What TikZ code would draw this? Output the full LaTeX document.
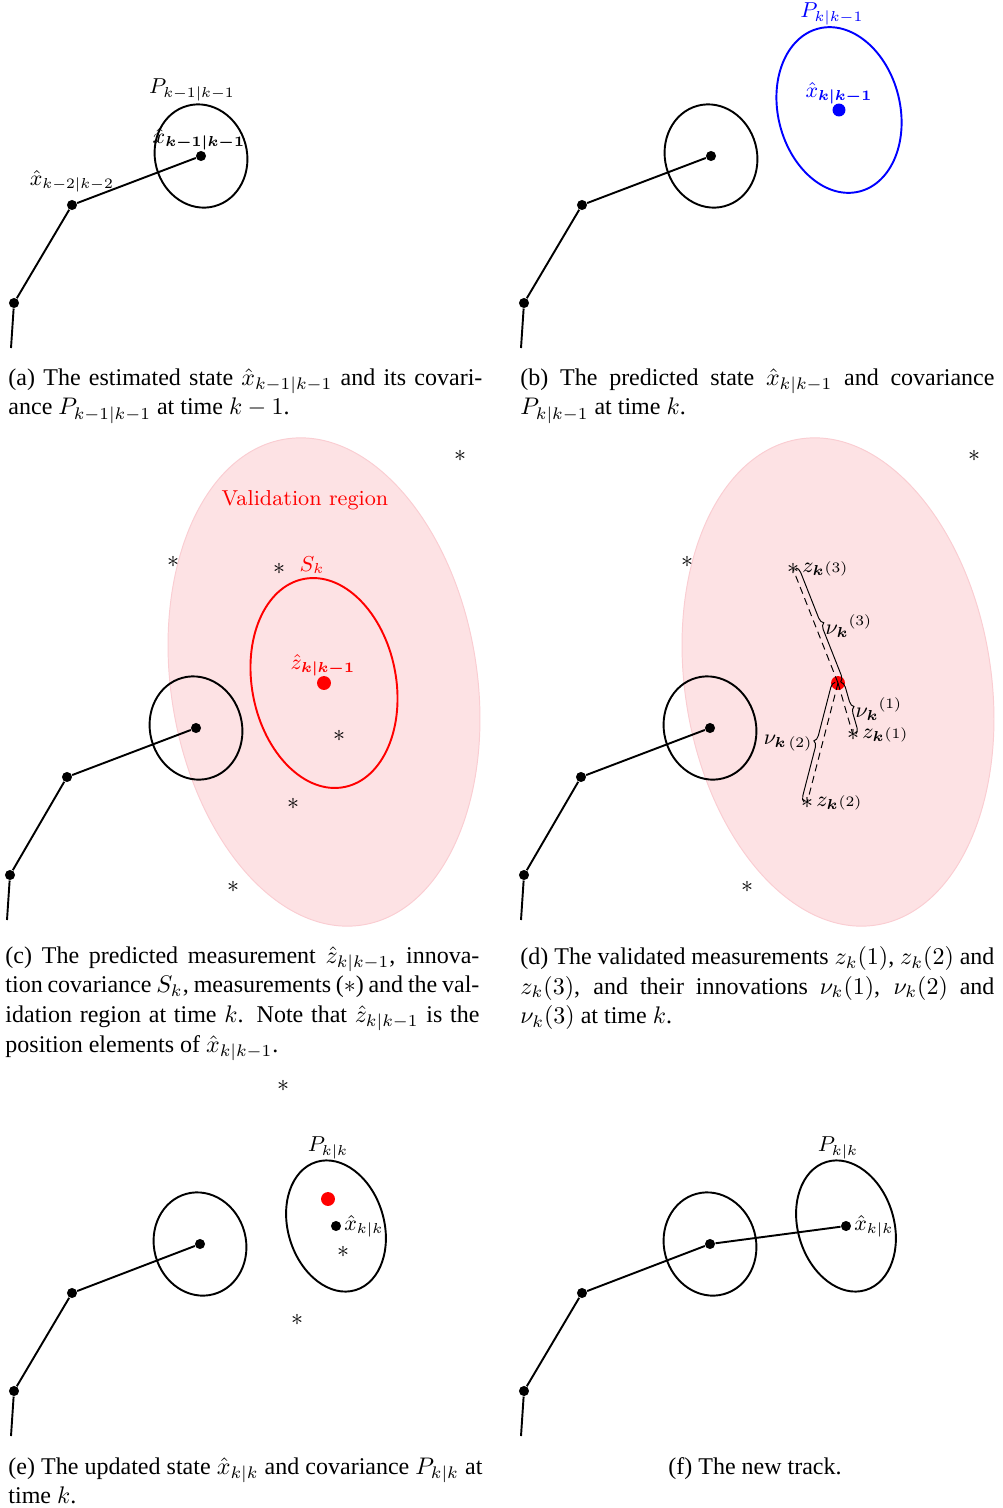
\documentclass[tikz,border=0pt]{standalone}
\usepackage{amsmath,amssymb}
\usepackage{fontspec}
\newfontfamily\capfont{Liberation Serif}
\usetikzlibrary{positioning,decorations.pathreplacing}

\definecolor{valpink}{RGB}{253,226,228}
\definecolor{valedge}{RGB}{250,205,210}

\tikzset{
  trk/.style={thick},
  dot/.style={circle, fill, inner sep=0pt, minimum size=4.2pt},
  bigdot/.style={circle, fill, inner sep=0pt, minimum size=5.8pt},
  meas/.style={inner sep=0pt},
  cov/.style={thick},
  lbl/.style={font=\small, inner sep=1pt},
  capbox/.style={anchor=north west, inner sep=0pt, text width=197.5pt, align=justify, font=\capfont\fontsize{10}{12.35}\selectfont},
  innov/.style={decorate, decoration={brace, amplitude=2.5pt, raise=1.2pt}},
}

\begin{document}
\begin{tikzpicture}[x=0.4167pt, y=-0.4167pt]
\useasboundingbox (0,0) rectangle (1002,1508);

% (a) estimated state
\coordinate (a0) at (11,348);
\node[dot] (a1) at (14,303) {};
\node[dot] (a2) at (72,205) {};
\node[dot] (a3) at (201,156) {};
\draw[trk] (a0) -- (a1) -- (a2) -- (a3);
\draw[cov, rotate=15] (a3) ellipse [x radius=46, y radius=52];
\node[lbl] (aP) at (192,90) {$P_{k-1|k-1}$};
\node[lbl] (ax) at (199,139) {$\hat{x}_{\boldsymbol{k-1|k-1}}$};
\node[lbl] (ax2) at (72,181) {$\hat{x}_{k-2|k-2}$};
\node[capbox] (capa) at (8,368) {(a) The estimated state $\hat{x}_{k-1|k-1}$ and its covariance $P_{k-1|k-1}$ at time $k-1$.};

% (b) prediction
\coordinate (b0) at (521,348);
\node[dot] (b1) at (524,303) {};
\node[dot] (b2) at (582,205) {};
\node[dot] (b3) at (711,156) {};
\draw[trk] (b0) -- (b1) -- (b2) -- (b3);
\draw[cov, rotate=15] (b3) ellipse [x radius=46, y radius=52];
\node[bigdot, blue, minimum size=5.4pt] (bx) at (839,110) {};
\draw[cov, blue, rotate=14] (bx) ellipse [x radius=61, y radius=84];
\node[lbl, blue] (bP) at (832,14) {$P_{k|k-1}$};
\node[lbl, blue] (bxl) at (839,93) {$\hat{x}_{\boldsymbol{k|k-1}}$};
\node[capbox] (capb) at (520,368) {(b) The predicted state $\hat{x}_{k|k-1}$ and covariance $P_{k|k-1}$ at time $k$.};

% (c) measurements and validation region
\coordinate (cv) at (324,682);
\fill[valpink, draw=valedge, rotate=9] (cv) ellipse [x radius=153, y radius=246];
\coordinate (c0) at (7,920);
\node[dot] (c1) at (10,875) {};
\node[dot] (c2) at (67,777) {};
\node[dot] (c3) at (196,728) {};
\draw[trk] (c0) -- (c1) -- (c2) -- (c3);
\draw[cov, rotate=15] (c3) ellipse [x radius=46, y radius=52];
\node[bigdot, red] (cz) at (324,683) {};
\draw[cov, red, rotate=11] (cz) ellipse [x radius=72, y radius=106];
\node[lbl, red] (cval) at (305,500) {Validation region};
\node[lbl, red] (cS) at (312,565) {$S_k$};
\node[lbl, red] (czl) at (323,665) {$\hat{z}_{\boldsymbol{k|k-1}}$};
\node[meas] (cs1) at (460,456) {$\ast$};
\node[meas] (cs2) at (173,562) {$\ast$};
\node[meas] (cs3) at (279,569) {$\ast$};
\node[meas] (cs4) at (339,736) {$\ast$};
\node[meas] (cs5) at (293,804) {$\ast$};
\node[meas] (cs6) at (233,887) {$\ast$};
\node[capbox] (capc) at (5,946) {(c) The predicted measurement $\hat{z}_{k|k-1}$, innovation covariance $S_k$, measurements ($\ast$) and the validation region at time $k$. Note that $\hat{z}_{k|k-1}$ is the position elements of $\hat{x}_{k|k-1}$.};

% (d) validated measurements and innovations
\coordinate (dv) at (838,682);
\fill[valpink, draw=valedge, rotate=9] (dv) ellipse [x radius=153, y radius=246];
\coordinate (d0) at (521,920);
\node[dot] (d1) at (524,875) {};
\node[dot] (d2) at (581,777) {};
\node[dot] (d3) at (710,728) {};
\draw[trk] (d0) -- (d1) -- (d2) -- (d3);
\draw[cov, rotate=15] (d3) ellipse [x radius=46, y radius=52];
\node[bigdot, red] (dz) at (838,683) {};
\node[meas] (ds1) at (974,456) {$\ast$};
\node[meas] (ds2) at (687,562) {$\ast$};
\node[meas] (ds6) at (747,887) {$\ast$};
\node[meas] (z1) at (853,735) {$\ast$};
\node[meas] (z2) at (807,803) {$\ast$};
\node[meas] (z3) at (793,569) {$\ast$};
\node[lbl, right=0pt of z1] (z1l) {$z_{\boldsymbol{k}}{\scriptstyle(1)}$};
\node[lbl, right=0pt of z2] (z2l) {$z_{\boldsymbol{k}}{\scriptstyle(2)}$};
\node[lbl, right=0pt of z3] (z3l) {$z_{\boldsymbol{k}}{\scriptstyle(3)}$};
\draw[dashed, dash pattern=on 3pt off 2pt] (dz.center) -- (z1.center);
\draw[dashed, dash pattern=on 3pt off 2pt] (dz.center) -- (z2.center);
\draw[dashed, dash pattern=on 3pt off 2pt] (dz.center) -- (z3.center);
\draw[innov] (dz.center) -- (z1.center) node[lbl, midway, right=3pt] {$\nu_{\boldsymbol{k}}{}^{(1)}$};
\draw[innov] (z2.center) -- (dz.center) node[lbl, midway, left=3pt] {$\nu_{\boldsymbol{k}\,(2)}$};
\draw[innov] (z3.center) -- (dz.center) node[lbl, midway, right=3pt] {$\nu_{\boldsymbol{k}}{}^{(3)}$};
\node[capbox] (capd) at (520,946) {(d) The validated measurements $z_k(1)$, $z_k(2)$ and $z_k(3)$, and their innovations $\nu_k(1)$, $\nu_k(2)$ and $\nu_k(3)$ at time $k$.};

% (e) update
\coordinate (e0) at (11,1436);
\node[dot] (e1) at (14,1391) {};
\node[dot] (e2) at (72,1293) {};
\node[dot] (e3) at (200,1244) {};
\draw[trk] (e0) -- (e1) -- (e2) -- (e3);
\draw[cov, rotate=15] (e3) ellipse [x radius=46, y radius=52];
\node[bigdot, red] (ez) at (328,1199) {};
\node[dot] (ex) at (336,1226) {};
\draw[cov, rotate=17] (ex) ellipse [x radius=48, y radius=67];
\node[lbl] (eP) at (328,1148) {$P_{k|k}$};
\node[lbl, right=0pt of ex] (exl) {$\hat{x}_{k|k}$};
\node[meas] (es1) at (283,1086) {$\ast$};
\node[meas] (es2) at (343,1252) {$\ast$};
\node[meas] (es3) at (297,1320) {$\ast$};
\node[capbox] (cape) at (8,1457) {(e) The updated state $\hat{x}_{k|k}$ and covariance $P_{k|k}$ at time $k$.};

% (f) new track
\coordinate (f0) at (521,1436);
\node[dot] (f1) at (524,1391) {};
\node[dot] (f2) at (582,1293) {};
\node[dot] (f3) at (710,1244) {};
\node[dot] (f4) at (846,1226) {};
\draw[trk] (f0) -- (f1) -- (f2) -- (f3) -- (f4);
\draw[cov, rotate=15] (f3) ellipse [x radius=46, y radius=52];
\draw[cov, rotate=17] (f4) ellipse [x radius=48, y radius=67];
\node[lbl] (fP) at (838,1148) {$P_{k|k}$};
\node[lbl, right=0pt of f4] (fxl) {$\hat{x}_{k|k}$};
\node[capbox, anchor=north, text width=] (capf) at (755,1457) {(f) The new track.};
\end{tikzpicture}
\end{document}
